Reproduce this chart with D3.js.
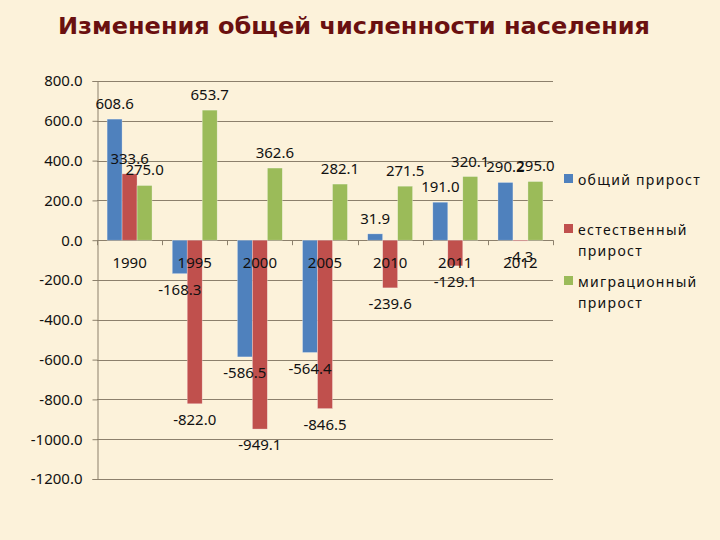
<!DOCTYPE html>
<html lang="ru">
<head>
<meta charset="utf-8">
<title>Изменения общей численности населения</title>
<script src="https://d3js.org/d3.v7.min.js"></script>
<style>
  body { margin: 0; background: #fcf2da; }
  svg { display: block; }
  text { font-family: "Noto Sans", "DejaVu Sans", sans-serif; fill: #111; }
</style>
</head>
<body>
<div class="chart"></div>
<script>
// данные с графика
const years = ['1990', '1995', '2000', '2005', '2010', '2011', '2012'];
const seriesNames = ['общий прирост', 'естественный прирост', 'миграционный прирост'];
const total = [608.6, -168.3, -586.5, -564.4, 31.9, 191.0, 290.2];
const natural = [333.6, -822.0, -949.1, -846.5, -239.6, -129.1, -4.3];
const migration = [275.0, 653.7, 362.6, 282.1, 271.5, 320.1, 295.0];
const yTicks = [800, 600, 400, 200, 0, -200, -400, -600, -800, -1000, -1200];
const colors = ['#4f81bd', '#c0504d', '#9bbb59'];

const width = 720;
const height = 540;

// plain hyphen instead of d3's unicode minus
const fmt = d => d3.format('.1f')(d).replace('\u2212', '-');

const svg = d3.select('.chart')
  .append('svg')
  .attr('width', width)
  .attr('height', height);

svg.append('rect')
  .attr('width', width)
  .attr('height', height)
  .attr('fill', '#fcf2da');

// title
svg.append('text')
  .attr('x', 58)
  .attr('y', 34)
  .attr('textLength', 592)
  .attr('lengthAdjust', 'spacingAndGlyphs')
  .style('font-family', '"DejaVu Sans", sans-serif')
  .style('font-weight', 'bold')
  .style('font-size', '23px')
  .style('fill', '#6a1010')
  .text('Изменения общей численности населения');

const plotLeft = 97, plotRight = 553;

const y = d3.scaleLinear()
  .domain([-1200, 800])
  .range([479, 81]);

const x = d3.scaleBand()
  .domain(years)
  .range([plotLeft, plotRight])
  .paddingInner(0.31)
  .paddingOuter(0.155);

const xs = d3.scaleBand()
  .domain(d3.range(3))
  .range([0, x.bandwidth()]);

// gridlines
svg.append('g')
  .selectAll('line')
  .data(yTicks)
  .enter()
  .append('line')
  .attr('x1', plotLeft)
  .attr('x2', plotRight)
  .attr('y1', d => Math.round(y(d)) + 0.5)
  .attr('y2', d => Math.round(y(d)) + 0.5)
  .attr('stroke', '#8c806c')
  .attr('stroke-width', 1);

// y axis
const yAxis = svg.append('g')
  .attr('transform', `translate(${plotLeft + 0.5},0)`)
  .call(d3.axisLeft(y).tickValues(yTicks).tickSize(5).tickFormat(fmt));
yAxis.select('.domain').attr('stroke', '#8c806c');
yAxis.selectAll('.tick line').attr('stroke', '#8c806c');
yAxis.selectAll('.tick text')
  .attr('x', -15)
  .style('font-size', '15px')
  .style('font-family', '"Noto Sans", sans-serif')
  .attr('fill', '#111');

// category ticks on the zero line
const boundaries = years.map(d => x(d) - x.step() * x.paddingInner() / 2).concat([plotRight]);
svg.append('g')
  .selectAll('line')
  .data(boundaries)
  .enter()
  .append('line')
  .attr('x1', d => Math.round(d) + 0.5)
  .attr('x2', d => Math.round(d) + 0.5)
  .attr('y1', y(0))
  .attr('y2', y(0) + 5)
  .attr('stroke', '#8c806c');

// bars
const series = [total, natural, migration];
series.forEach((vals, si) => {
  const g = svg.append('g');
  g.selectAll('rect')
    .data(vals)
    .enter()
    .append('rect')
    .attr('x', (d, i) => x(years[i]) + xs(si))
    .attr('y', d => y(Math.max(0, d)))
    .attr('width', xs.bandwidth())
    .attr('height', d => Math.abs(y(d) - y(0)))
    .attr('fill', colors[si])
    .attr('stroke', 'rgba(255,255,255,0.5)')
    .attr('stroke-width', 0.6);
});

// category labels
svg.append('g')
  .selectAll('text')
  .data(years)
  .enter()
  .append('text')
  .attr('x', d => x(d) + x.bandwidth() / 2)
  .attr('y', 268)
  .attr('text-anchor', 'middle')
  .style('font-size', '15px')
  .text(d => d);

// value labels
series.forEach((vals, si) => {
  svg.append('g')
    .selectAll('text')
    .data(vals)
    .enter()
    .append('text')
    .attr('x', (d, i) => x(years[i]) + xs(si) + xs.bandwidth() / 2)
    .attr('y', d => d >= 0 ? y(d) - 10 : y(d) + 21)
    .attr('text-anchor', 'middle')
    .style('font-size', '15px')
    .text(fmt);
});

// legend
const legendLines = [['общий прирост'], ['естественный', 'прирост'], ['миграционный', 'прирост']];
const legendY = [185, 235, 287];
const legend = svg.append('g');
legendLines.forEach((lines, i) => {
  legend.append('rect')
    .attr('x', 564)
    .attr('y', legendY[i] - 11)
    .attr('width', 9)
    .attr('height', 9)
    .attr('fill', colors[i]);
  lines.forEach((line, j) => {
    legend.append('text')
      .attr('x', 578)
      .attr('y', legendY[i] + j * 21)
      .style('font-size', '14px')
      .style('letter-spacing', '1.3px')
      .text(line);
  });
});
</script>
</body>
</html>
